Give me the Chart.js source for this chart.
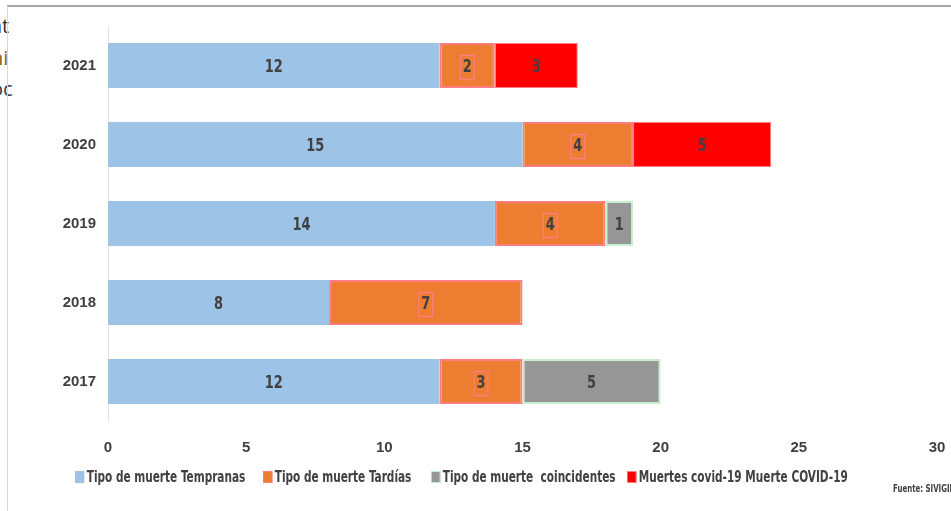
<!DOCTYPE html>
<html>
<head>
<meta charset="utf-8">
<script src="https://cdn.jsdelivr.net/npm/chart.js@4/dist/chart.umd.min.js"></script>
<style>
  html, body { margin: 0; padding: 0; background: #fff; }
  #wrap { position: relative; width: 951px; height: 511px; overflow: hidden; }
  #frame { position: absolute; left: 7px; top: 5px; width: 960px; height: 520px;
           border-top: 2px solid #a6a6a6; border-left: 1px solid #d9d9d9; }
  .cut { position: absolute; left: -9px; font: 20px "Open Sans", sans-serif; color: #333; }
  .cond { font-family: "DejaVu Sans Condensed", sans-serif; font-weight: bold; color: #404040;
          white-space: pre; position: absolute; transform-origin: 0 50%; }
  #fuente { left: 893px; top: 483px; font-size: 10px; transform: scaleX(0.78); }
  .leg { top: 468px; font-size: 15px; line-height: 18px; transform: scaleX(0.78); }
  .leg i { display: inline-block; width: 12px; height: 12px; margin-right: 3px; vertical-align: -1px; box-sizing: border-box; }
  canvas { position: absolute; left: 0; top: 0; }
</style>
</head>
<body>
<div id="wrap">
  <div class="cut" style="top:12px">at</div>
  <div class="cut" style="top:44px;color:#8a5a1c">ni</div>
  <div class="cut" style="top:75px;color:#2d3a4f">oc</div>
  <div id="frame"></div>
  <canvas id="chart" width="951" height="511"></canvas>
  <div id="legend"></div>
  <div id="fuente" class="cond">Fuente: SIVIGILA</div>
</div>
<script>
const years = ['2021', '2020', '2019', '2018', '2017'];
const tempranas = [12, 15, 14, 8, 12];
const tardias = [2, 4, 4, 7, 3];
const coincidentes = [0, 0, 1, 0, 5];
const covid = [3, 5, 0, 0, 0];
const xTicks = [0, 5, 10, 15, 20, 25, 30];

const seriesNames = ['Tipo de muerte Tempranas', 'Tipo de muerte Tardías',
                     'Tipo de muerte  coincidentes', 'Muertes covid-19 Muerte COVID-19'];
const legendX = [75, 263, 431, 627];

// numbers in the middle of each segment, condensed like Calibri
const barLabels = {
  id: 'barLabels',
  afterDatasetsDraw(chart) {
    const ctx = chart.ctx;
    chart.data.datasets.forEach((ds, i) => {
      const meta = chart.getDatasetMeta(i);
      meta.data.forEach((bar, j) => {
        const v = ds.data[j];
        if (!v) return;
        const x = (bar.x + bar.base) / 2;
        const y = bar.y + 2;
        ctx.save();
        ctx.translate(x, y);
        ctx.scale(0.8, 1);
        ctx.font = 'bold 18px "DejaVu Sans Condensed", sans-serif';
        ctx.textAlign = 'center';
        ctx.textBaseline = 'middle';
        if (ds.labelBox) {
          const w = ctx.measureText(String(v)).width;
          ctx.strokeStyle = '#ff7c80';
          ctx.lineWidth = 1.5;
          ctx.strokeRect(-w / 2 - 3, -12, w + 6, 24);
        }
        ctx.fillStyle = '#404040';
        ctx.fillText(String(v), 0, 0);
        ctx.restore();
      });
    });
  }
};

const tickFont = { family: '"Liberation Sans", "DejaVu Sans", sans-serif', size: 15, weight: 'bold' };

const chart = new Chart(document.getElementById('chart'), {
  type: 'bar',
  data: {
    labels: years,
    datasets: [
      { label: seriesNames[0], data: tempranas, backgroundColor: '#9dc3e6',
        borderColor: '#9dc3e6', borderWidth: 0 },
      { label: seriesNames[1], data: tardias, backgroundColor: '#ed7d31',
        borderColor: '#ff7c80', borderWidth: 2, labelBox: true },
      { label: seriesNames[2], data: coincidentes, backgroundColor: '#969696',
        borderColor: '#c6efce', borderWidth: 2 },
      { label: seriesNames[3], data: covid, backgroundColor: '#ff0000',
        borderColor: '#ff7c80', borderWidth: 1 }
    ]
  },
  options: {
    indexAxis: 'y',
    responsive: false,
    animation: false,
    layout: { padding: { left: 0, right: 0, top: 26, bottom: 36 } },
    datasets: { bar: { categoryPercentage: 1, barPercentage: 0.57, borderSkipped: false } },
    scales: {
      x: {
        stacked: true, min: 0, max: 30,
        afterBuildTicks: (axis) => { axis.ticks = xTicks.map(v => ({ value: v })); },
        afterFit: (axis) => { axis.paddingRight = 14; },
        grid: { display: false, drawTicks: false },
        border: { display: false },
        ticks: { color: '#404040', padding: 18, font: tickFont }
      },
      y: {
        stacked: true,
        grid: { display: false, drawTicks: false },
        border: { display: true, color: '#e3e3e3', width: 1 },
        afterFit: (axis) => { axis.width = 108; },
        ticks: { color: '#404040', padding: 12, font: tickFont }
      }
    },
    plugins: {
      legend: { display: false },
      tooltip: { enabled: false }
    }
  },
  plugins: [barLabels]
});

// legend row under the axis, built from the datasets
const legendEl = document.getElementById('legend');
chart.data.datasets.forEach((ds, i) => {
  const item = document.createElement('div');
  item.className = 'cond leg';
  item.style.left = legendX[i] + 'px';
  const sw = document.createElement('i');
  sw.style.background = ds.backgroundColor;
  if (i > 0) sw.style.border = '1px solid ' + ds.borderColor;
  item.appendChild(sw);
  item.appendChild(document.createTextNode(ds.label));
  legendEl.appendChild(item);
});
</script>
</body>
</html>
